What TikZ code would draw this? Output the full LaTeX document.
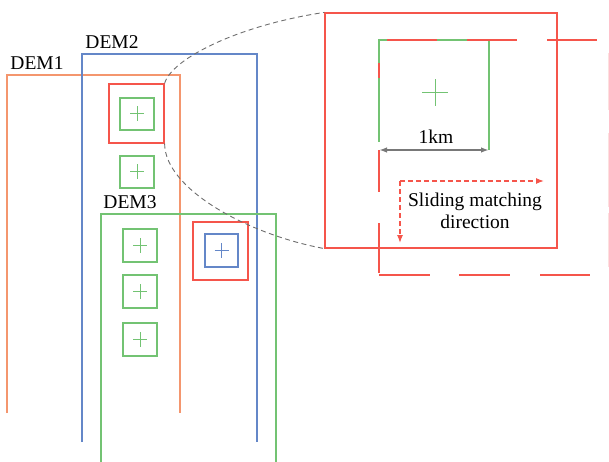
\documentclass[tikz,border=0pt]{standalone}
\usepackage{fontspec}
\setmainfont{Liberation Serif}
\usetikzlibrary{arrows.meta}
\definecolor{demorange}{RGB}{244,150,110}
\definecolor{demblue}{RGB}{100,135,200}
\definecolor{demgreen}{RGB}{115,195,115}
\definecolor{winred}{RGB}{245,85,75}
\definecolor{curvegray}{RGB}{110,110,110}
\definecolor{dimgray}{RGB}{120,120,120}
\tikzset{
  orangeline/.style={draw=demorange,line width=1.1pt},
  blueline/.style={draw=demblue,line width=1.1pt},
  greenline/.style={draw=demgreen,line width=1.1pt},
  redline/.style={draw=winred,line width=1.2pt},
  lbl/.style={font=\fontsize{19.5}{22}\selectfont,inner sep=0pt},
  gbox/.style={draw=demgreen,line width=1.1pt,inner sep=0pt,minimum width=34pt,minimum height=33pt},
  bbox/.style={draw=demblue,line width=1.1pt,inner sep=0pt,minimum width=33pt,minimum height=33pt},
  rbox/.style={draw=winred,line width=1.2pt,inner sep=0pt,minimum width=55pt,minimum height=59pt},
  linkcurve/.style={draw=curvegray,line width=0.9pt,dash pattern=on 5pt off 3.5pt},
  dimarrow/.style={draw=dimgray,line width=1.6pt,{Latex[length=8pt,width=5.5pt]}-{Latex[length=8pt,width=5.5pt]}},
  slidearrow/.style={draw=winred,line width=1.2pt,dash pattern=on 5pt off 3pt,-{Latex[length=8pt,width=6pt]}},
}
\begin{document}
\begin{tikzpicture}[x=1pt,y=-1pt]
\useasboundingbox (0,0) rectangle (609,462);
% DEM frames (open at bottom)
\draw[orangeline] (7,413) -- (7,75) -- (180,75) -- (180,413);
\draw[blueline] (82,442) -- (82,54) -- (257,54) -- (257,442);
\draw[greenline] (101,463) -- (101,214) -- (276,214) -- (276,463);
\node[lbl] (dem1) at (37,63) {DEM1};
\node[lbl] (dem2) at (112,42) {DEM2};
\node[lbl] (dem3) at (130,202) {DEM3};
% red windows
\node[rbox] (r1) at (136.5,113.5) {};
\node[rbox,minimum height=58pt] (r2) at (220.5,251) {};
% green and blue 1km cells
\node[gbox,minimum height=32pt] (g1) at (137,114) {};
\node[gbox,minimum height=32pt] (g2) at (137,172) {};
\node[gbox] (g3) at (140,245.5) {};
\node[gbox] (g4) at (140,291.5) {};
\node[gbox] (g5) at (140,339.5) {};
\node[bbox] (b1) at (221.5,250.5) {};
\foreach \n in {g1,g2,g3,g4,g5}
  \draw[demgreen,line width=1pt] (\n.center) +(-7,0) -- +(7,0) (\n.center) +(0,-7.5) -- +(0,7.5);
\draw[demblue,line width=1pt] (b1.center) +(-7,0) -- +(7,0) (b1.center) +(0,-7.5) -- +(0,7.5);
% enlarged window
\node[draw=winred,line width=1.2pt,inner sep=0pt,minimum width=232pt,minimum height=235pt] (big) at (441,130.5) {};
% link curves
\draw[linkcurve] (r1.north east) .. controls (172,58) and (240,25) .. (big.north west);
\draw[linkcurve] (r1.south east) .. controls (165,190) and (250,235) .. (big.south west);
% enlarged green cell (no bottom edge)
\coordinate (gtl) at (379,40);
\coordinate (gtr) at (489,40);
\coordinate (gbl) at (379,150);
\coordinate (gbr) at (489,150);
\draw[greenline] (379,142) -- (gtl) -- (gtr) -- (gbr);
\coordinate (zc) at (435,93);
\draw[demgreen,line width=1pt] (zc) +(-13,0) -- +(13,0) (zc) +(0,-13.5) -- +(0,13.5);
% sliding window dashed outline
\draw[redline] (387,40) -- (437,40) (467,40) -- (517,40) (547,40) -- (597,40);
\draw[redline] (379,63) -- (379,78) (379,150) -- (379,192) (379,223) -- (379,273);
\draw[redline] (379,275) -- (430,275) (459,275) -- (510,275) (540,275) -- (590,275);
\draw[winred!18,line width=1pt] (608,53) -- (608,110) (608,133) -- (608,207) (608,213) -- (608,267);
% 1km dimension
\draw[dimarrow] (gbl) -- (gbr);
\node[lbl] (km) at (436,137) {1km};
% sliding direction
\coordinate (so) at (400,181);
\coordinate (sx) at (544,181);
\coordinate (sy) at (400,243);
\draw[slidearrow] (so) -- (sx);
\draw[slidearrow] (so) -- (sy);
\node[lbl,align=center] (slide) at (475,211) {Sliding matching\\direction};
\end{tikzpicture}
\end{document}
